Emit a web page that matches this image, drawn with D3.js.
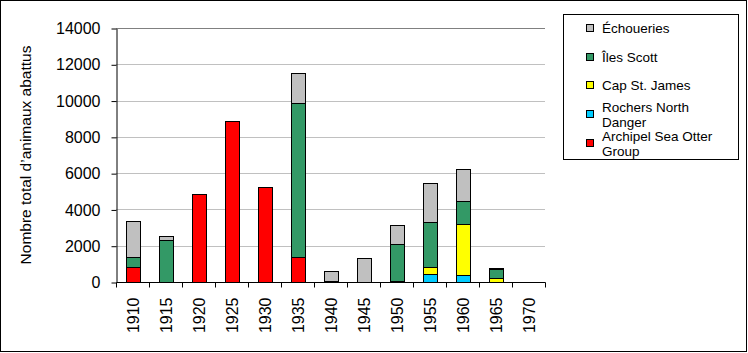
<!DOCTYPE html>
<html>
<head>
<meta charset="utf-8">
<script src="https://cdn.jsdelivr.net/npm/d3@7"></script>
<style>
  body { margin: 0; background: #fff; }
  text { font-family: "Liberation Sans", Arial, sans-serif; fill: #000; }
</style>
</head>
<body>
<div id="container"></div>
<script>
// ---------- DATA ----------
const years = ['1910', '1915', '1920', '1925', '1930', '1935', '1940', '1945', '1950', '1955', '1960', '1965', '1970'];
const archipel = [830, 0, 4870, 8850, 5260, 1360, 0, 0, 30, 0, 0, 0, 0];
const rochers  = [0, 0, 0, 0, 0, 0, 0, 0, 0, 460, 400, 0, 0];
const capStJames = [0, 0, 0, 0, 0, 40, 0, 0, 0, 390, 2820, 240, 0];
const ilesScott = [550, 2330, 0, 0, 0, 8490, 30, 25, 2090, 2480, 1270, 460, 0];
const echoueries = [2005, 220, 0, 50, 0, 1650, 600, 1320, 1000, 2150, 1760, 90, 0];
const yTicks = [0, 2000, 4000, 6000, 8000, 10000, 12000, 14000];

// bottom to top
const series = [
    { name: 'Archipel Sea Otter Group', values: archipel, color: '#ff0000' },
    { name: 'Rochers North Danger', values: rochers, color: '#00ccff' },
    { name: 'Cap St. James', values: capStJames, color: '#ffff00' },
    { name: 'Îles Scott', values: ilesScott, color: '#339966' },
    { name: 'Échoueries', values: echoueries, color: '#c0c0c0' }
];

// ---------- DIMENSIONS ----------
const width = 748;
const height = 353;
const marginLeft = 116;
const marginRight = 203;
const marginTop = 28;
const marginBottom = 71;

const svg = d3.create('svg')
    .attr('width', width)
    .attr('height', height);

svg.append('rect')
    .attr('x', 0.5).attr('y', 0.5)
    .attr('width', width - 2).attr('height', height - 2)
    .attr('fill', '#fff').attr('stroke', '#000');

// ---------- SCALES ----------
const x = d3.scaleBand()
    .domain(years)
    .range([marginLeft, width - marginRight]);

const y = d3.scaleLinear()
    .domain([0, 14000])
    .range([height - marginBottom, marginTop]);

// ---------- GRID ----------
svg.append('g')
    .selectAll('line')
    .data(yTicks.filter(t => t > 0))
    .join('line')
    .attr('x1', marginLeft)
    .attr('x2', width - marginRight)
    .attr('y1', d => Math.round(y(d)) + 0.5)
    .attr('y2', d => Math.round(y(d)) + 0.5)
    .attr('stroke', d => d === 14000 ? '#808080' : '#c0c0c0');

// ---------- STACK ----------
const table = years.map((yr, i) => {
    const row = { year: yr };
    series.forEach(s => row[s.name] = s.values[i]);
    return row;
});

const stack = d3.stack().keys(series.map(s => s.name))(table);

const barW = 14;
svg.append('g')
    .selectAll('g')
    .data(stack)
    .join('g')
    .attr('fill', (d, i) => series[i].color)
    .selectAll('rect')
    .data(d => d.filter(p => p[1] - p[0] > 0))
    .join('rect')
    .attr('x', d => Math.round(x(d.data.year) + (x.bandwidth() - barW) / 2) + 0.5)
    .attr('width', barW)
    .attr('y', d => Math.round(y(d[1])) + 0.5)
    .attr('height', d => Math.max(0, Math.round(y(d[0])) - Math.round(y(d[1]))))
    .attr('stroke', '#000')
    .attr('stroke-width', 1);

// ---------- AXES ----------
const yAxis = svg.append('g')
    .attr('transform', `translate(${marginLeft + 0.5},0.5)`)
    .call(d3.axisLeft(y).tickValues(yTicks).tickFormat(d3.format('d'))
        .tickSize(5).tickSizeOuter(0).tickPadding(11));
yAxis.select('.domain').attr('stroke', '#000');
yAxis.selectAll('text')
    .style('font-size', '16px')
    .style('font-family', '"Liberation Sans", Arial, sans-serif');

const xAxisG = svg.append('g')
    .attr('transform', `translate(0.5,${height - marginBottom + 0.5})`);
xAxisG.append('line')
    .attr('x1', marginLeft).attr('x2', width - marginRight)
    .attr('stroke', '#000');
xAxisG.selectAll('.tick')
    .data(years.concat(['end']))
    .join('line')
    .attr('x1', d => d === 'end' ? width - marginRight : x(d))
    .attr('x2', d => d === 'end' ? width - marginRight : x(d))
    .attr('y1', 0).attr('y2', 5)
    .attr('stroke', '#000');
xAxisG.selectAll('text')
    .data(years)
    .join('text')
    .attr('transform', d => `translate(${x(d) + x.bandwidth() / 2 + 6},${15}) rotate(-90)`)
    .attr('text-anchor', 'end')
    .style('font-size', '16px')
    .text(d => d);

// y axis title
svg.append('text')
    .attr('transform', `translate(31,${(marginTop + height - marginBottom) / 2}) rotate(-90)`)
    .attr('text-anchor', 'middle')
    .style('font-size', '15.5px')
    .text('Nombre total d\u2019animaux abattus');

// ---------- LEGEND ----------
const legend = svg.append('g');
legend.append('rect')
    .attr('x', 563.5).attr('y', 14.5)
    .attr('width', 175).attr('height', 145)
    .attr('fill', '#fff').attr('stroke', '#000');

const legendItems = [
    { s: series[4], lines: ['Échoueries'], cy: 28 },
    { s: series[3], lines: ['Îles Scott'], cy: 57 },
    { s: series[2], lines: ['Cap St. James'], cy: 85 },
    { s: series[1], lines: ['Rochers North', 'Danger'], cy: 114 },
    { s: series[0], lines: ['Archipel Sea Otter', 'Group'], cy: 143 }
];

legendItems.forEach(it => {
    legend.append('rect')
        .attr('x', 586.5).attr('y', it.cy - 3.5)
        .attr('width', 7).attr('height', 7)
        .attr('fill', it.s.color).attr('stroke', '#000');
    const n = it.lines.length;
    it.lines.forEach((ln, k) => {
        legend.append('text')
            .attr('x', 602)
            .attr('y', it.cy + 5 + (k - (n - 1) / 2) * 15)
            .style('font-size', '13.5px')
            .text(ln);
    });
});

document.getElementById('container').append(svg.node());
</script>
</body>
</html>
